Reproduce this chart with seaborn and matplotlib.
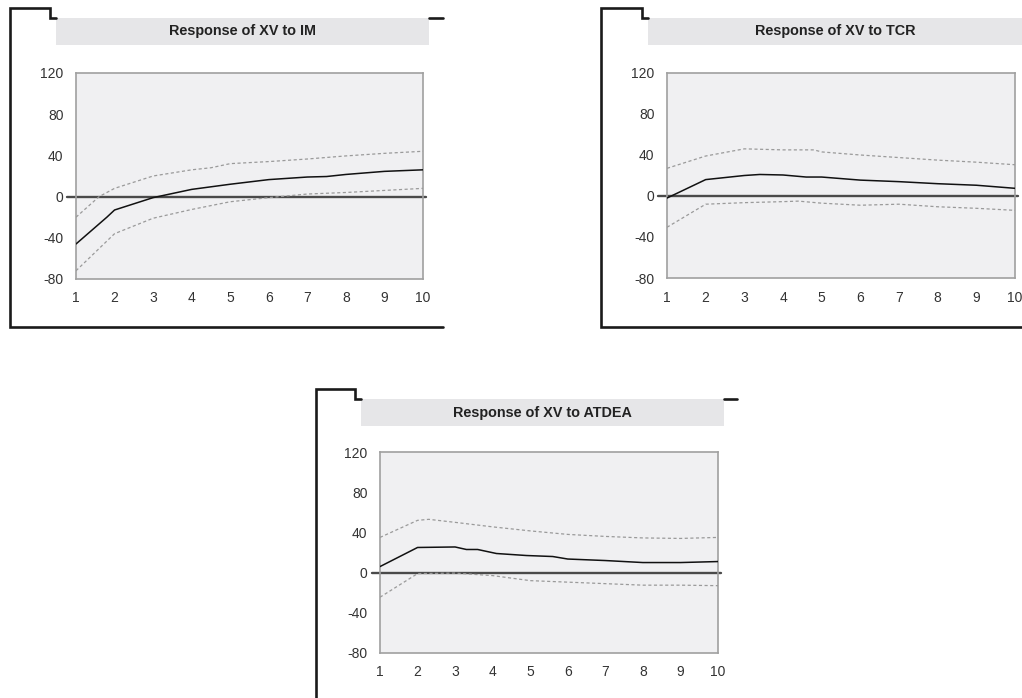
import matplotlib
matplotlib.use("Agg")
import matplotlib.pyplot as plt
import pandas as pd
import seaborn as sns
from matplotlib.lines import Line2D
from matplotlib.patches import Rectangle

# ========== Данные ==========
# Response of XV to IM
im_x = [1, 1.8, 2, 3, 4, 5, 6, 7, 7.5, 8, 9, 10]
im_resp = [-46, -20, -13, -1, 7, 12, 16.5, 19, 19.5, 21.5, 24.5, 26]
im_x_up = [1, 1.6, 2, 3, 4, 4.5, 5, 6, 7, 8, 9, 10]
im_up = [-20, 0, 8, 20, 26, 28, 32, 34, 36.5, 39.5, 42, 44]
im_x_lo = [1, 2, 3, 4, 5, 6, 7, 8, 9, 10]
im_lo = [-72, -36, -21, -12.5, -5, -1, 2.5, 4, 6, 8]

# Response of XV to TCR
tcr_x = [1, 2, 3, 3.4, 4, 4.6, 5, 6, 7, 7.5, 8, 9, 10]
tcr_resp = [-2, 16, 20, 21, 20.5, 18.5, 18.5, 15.5, 14, 13, 12, 10.5, 7.5]
tcr_x_up = [1, 2, 3, 4, 4.8, 5, 6, 7, 8, 9, 10]
tcr_up = [27, 39, 46, 45, 45, 43, 40, 37.5, 35, 33, 30.5]
tcr_x_lo = [1, 2, 3, 4, 4.4, 5, 6, 7, 8, 9, 10]
tcr_lo = [-30.5, -8, -6.5, -5.5, -5, -7, -9, -8, -10.5, -12, -14]

# Response of XV to ATDEA
atd_x = [1, 2, 3, 3.3, 3.6, 4.1, 4.9, 5.6, 6, 7, 8, 9, 10]
atd_resp = [6, 25, 25.5, 23, 23, 19, 17, 16, 13.5, 12, 10, 10, 11]
atd_x_up = [1, 2, 2.3, 3, 4, 5, 6, 7, 8, 9, 10]
atd_up = [35, 52, 53, 50, 45.5, 41.5, 38, 36, 34.5, 34, 35]
atd_x_lo = [1, 2, 3, 4, 5, 6, 7, 8, 9, 10]
atd_lo = [-24.5, -1, -0.5, -3, -8, -9.5, -11, -12.5, -12.5, -13]

titles = ["Response of XV to IM", "Response of XV to TCR", "Response of XV to ATDEA"]
x_ticks = list(range(1, 11))
y_ticks = [-80, -40, 0, 40, 80, 120]

sns.set_theme(style="white")
plt.rcParams['font.family'] = ['Liberation Sans', 'DejaVu Sans']
plt.rcParams['axes.unicode_minus'] = False

W, H = 1022, 698
fig = plt.figure(figsize=(W / 100, H / 100), dpi=100)


def fx(x):
    return x / W


def fy(y):
    return 1 - y / H


def add_frame(points, lw=1.9):
    xs = [fx(p[0]) for p in points]
    ys = [fy(p[1]) for p in points]
    fig.add_artist(Line2D(xs, ys, color="#1a1a1a", lw=lw,
                          solid_joinstyle="miter", transform=fig.transFigure))


def add_title(l, t, r, b, text):
    fig.add_artist(Rectangle((fx(l), fy(b)), fx(r - l), (b - t) / H,
                             facecolor="#e6e6e8", edgecolor="none",
                             transform=fig.transFigure))
    fig.text(fx((l + r) / 2), fy((t + b) / 2), text, ha="center", va="center",
             fontsize=10.4, fontweight="bold", color="#222222")


def draw_panel(box, xs, ys, xs_up, ups, xs_lo, los):
    l, t, r, b = box
    ax = fig.add_axes([fx(l), fy(b), fx(r - l), (b - t) / H])
    ax.set_facecolor("#f0f0f2")

    df = pd.DataFrame({"period": xs, "value": ys})
    up = pd.DataFrame({"period": xs_up, "value": ups})
    lo = pd.DataFrame({"period": xs_lo, "value": los})

    ax.axhline(0, xmin=-0.025, xmax=1.01, color="#4a4a4a", lw=1.7,
               clip_on=False, zorder=2)
    sns.lineplot(data=up, x="period", y="value", ax=ax, color="#9a9a9a",
                 lw=0.9, linestyle=(0, (2.5, 2)), zorder=3)
    sns.lineplot(data=lo, x="period", y="value", ax=ax, color="#9a9a9a",
                 lw=0.9, linestyle=(0, (2.5, 2)), zorder=3)
    sns.lineplot(data=df, x="period", y="value", ax=ax, color="#111111",
                 lw=1.1, zorder=4)

    ax.set_xlim(1, 10)
    ax.set_ylim(-80, 120)
    ax.set_xticks(x_ticks)
    ax.set_yticks(y_ticks)
    ax.set_xlabel("")
    ax.set_ylabel("")
    for s in ax.spines.values():
        s.set_color("#a0a0a0")
        s.set_linewidth(1.2)
    ax.tick_params(axis="both", direction="out", length=6, width=1,
                   color="#aaaaaa", labelsize=10, labelcolor="#333333",
                   pad=3)
    ax.tick_params(axis="x", length=5, pad=4)
    return ax


# Панель 1
add_frame([(56, 18), (50, 18), (50, 8), (10, 8), (10, 327), (443, 327)])
add_frame([(429, 18), (443, 18)])
add_title(56, 18, 429, 45, titles[0])
draw_panel((76, 73, 423, 279), im_x, im_resp, im_x_up, im_up, im_x_lo, im_lo)

# Панель 2
add_frame([(648, 18), (642, 18), (642, 8), (601, 8), (601, 327), (1022, 327)])
add_title(648, 18, 1022, 45, titles[1])
draw_panel((667, 73, 1015, 278), tcr_x, tcr_resp, tcr_x_up, tcr_up, tcr_x_lo, tcr_lo)

# Панель 3
add_frame([(361, 399), (355, 399), (355, 389), (316, 389), (316, 698)])
add_frame([(724, 399), (737, 399)])
add_title(361, 399, 724, 426, titles[2])
draw_panel((380, 452, 718, 653), atd_x, atd_resp, atd_x_up, atd_up, atd_x_lo, atd_lo)

fig.savefig("out.png", dpi=100, facecolor="white")
